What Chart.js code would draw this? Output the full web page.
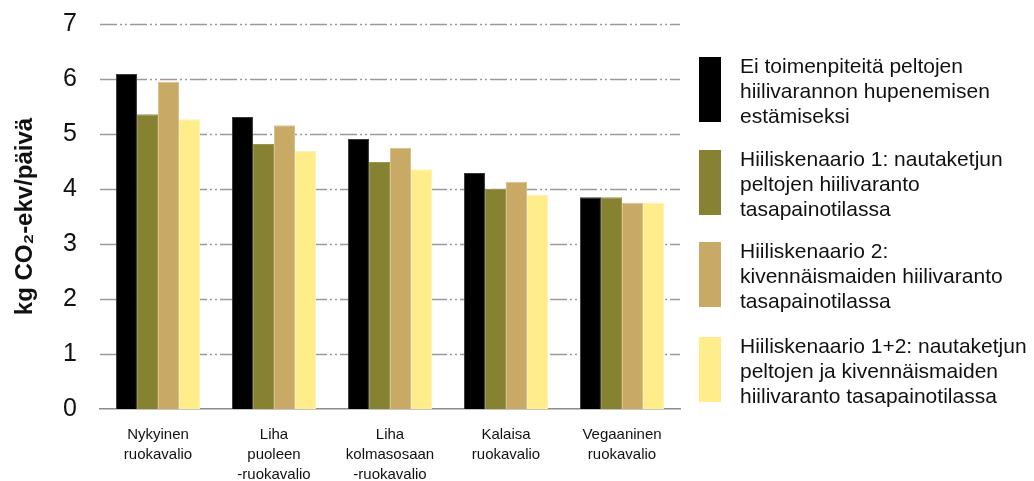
<!DOCTYPE html>
<html>
<head>
<meta charset="utf-8">
<script src="https://cdn.jsdelivr.net/npm/chart.js@4.4.0/dist/chart.umd.min.js"></script>
<style>
  body { margin: 0; background: #fff; }
  #wrap { position: relative; width: 1034px; height: 481px; }
  #legend { position: absolute; left: 699px; top: 0; font-family: "Liberation Sans", Arial, sans-serif; font-size: 21px; color: #111; }
  .item { position: absolute; left: 0; width: 330px; }
  .box { position: absolute; left: 0; width: 22px; }
  .txt { position: absolute; left: 41px; line-height: 25px; white-space: nowrap; }
</style>
</head>
<body>
<div id="wrap">
  <canvas id="chart" width="1034" height="481"></canvas>
  <div id="legend"></div>
</div>
<script>
// categories and values
const categories = [
    ['Nykyinen', 'ruokavalio'],
    ['Liha', 'puoleen', '-ruokavalio'],
    ['Liha', 'kolmasosaan', '-ruokavalio'],
    ['Kalaisa', 'ruokavalio'],
    ['Vegaaninen', 'ruokavalio']
];
const seriesNames = [
    ['Ei toimenpiteitä peltojen', 'hiilivarannon hupenemisen', 'estämiseksi'],
    ['Hiiliskenaario 1: nautaketjun', 'peltojen hiilivaranto', 'tasapainotilassa'],
    ['Hiiliskenaario 2:', 'kivennäismaiden hiilivaranto', 'tasapainotilassa'],
    ['Hiiliskenaario 1+2: nautaketjun', 'peltojen ja kivennäismaiden', 'hiilivaranto tasapainotilassa']
];
const noAction = [6.09, 5.31, 4.91, 4.29, 3.85];
const scenario1 = [5.36, 4.82, 4.49, 4.00, 3.85];
const scenario2 = [5.95, 5.16, 4.75, 4.13, 3.75];
const scenario12 = [5.27, 4.69, 4.36, 3.89, 3.75];
const yTicks = [0, 1, 2, 3, 4, 5, 6, 7];

const fills = ['#000000', '#868232', '#C9A966', '#FFEC8B'];
const edges = ['#3a3a3a', '#9a9650', '#dcc08a', '#fff2b0'];
const values = [noAction, scenario1, scenario2, scenario12];

// legend as html, placed beside the plot
const legendEl = document.getElementById('legend');
const legendTops = [57, 150, 242, 337];
seriesNames.forEach((name, i) => {
    const item = document.createElement('div');
    item.className = 'item';
    item.style.top = legendTops[i] + 'px';
    item.innerHTML = '<div class="box" style="height:65px;background:' + fills[i] + '"></div>' +
        '<div class="txt" style="top:-4px">' + name.join('<br>') + '</div>';
    legendEl.appendChild(item);
});

// dash-dot grid lines like the original
const gridPlugin = {
    id: 'dashDotGrid',
    beforeDatasetsDraw(chart) {
        const { ctx, chartArea, scales } = chart;
        ctx.save();
        ctx.strokeStyle = '#9a9a9a';
        ctx.lineWidth = 1.5;
        ctx.setLineDash([17, 3, 2, 3, 2, 3]);
        yTicks.forEach((t) => {
            if (t === 0) return;
            const y = Math.round(scales.y.getPixelForValue(t)) + 0.5;
            ctx.beginPath();
            ctx.moveTo(chartArea.left, y);
            ctx.lineTo(chartArea.right, y);
            ctx.stroke();
        });
        ctx.restore();
    }
};

new Chart(document.getElementById('chart').getContext('2d'), {
    type: 'bar',
    data: {
        labels: categories,
        datasets: values.map((data, i) => ({
            label: seriesNames[i].join(' '),
            data: data,
            backgroundColor: fills[i],
            borderColor: edges[i],
            borderWidth: 1,
            barPercentage: 1.0,
            categoryPercentage: 0.725
        }))
    },
    options: {
        responsive: false,
        animation: false,
        layout: { padding: { left: 6, right: 354, top: 24, bottom: 0 } },
        plugins: {
            legend: { display: false },
            tooltip: { enabled: false }
        },
        scales: {
            x: {
                grid: { display: false, drawTicks: false },
                border: { display: true, color: '#8c8c8c', width: 1.5 },
                ticks: {
                    color: '#111',
                    font: { family: 'Liberation Sans', size: 15, lineHeight: 1.33 },
                    padding: 16,
                    maxRotation: 0,
                    autoSkip: false
                },
                afterFit: (scale) => { scale.height = 72; }
            },
            y: {
                min: 0,
                max: 7,
                afterBuildTicks: (scale) => { scale.ticks = yTicks.map((v) => ({ value: v })); },
                grid: { display: false, drawTicks: false },
                border: { display: false },
                ticks: {
                    color: '#111',
                    font: { family: 'Liberation Sans', size: 25, lineHeight: 1 },
                    padding: 23
                },
                title: {
                    display: true,
                    text: 'kg CO₂-ekv/päivä',
                    color: '#111',
                    font: { family: 'Liberation Sans', size: 24, weight: 'bold' },
                    padding: 5
                },
                afterFit: (scale) => {
                    scale.width = 94;
                    scale.paddingTop = 0;
                    scale.paddingBottom = 0;
                }
            }
        }
    },
    plugins: [gridPlugin]
});
</script>
</body>
</html>
